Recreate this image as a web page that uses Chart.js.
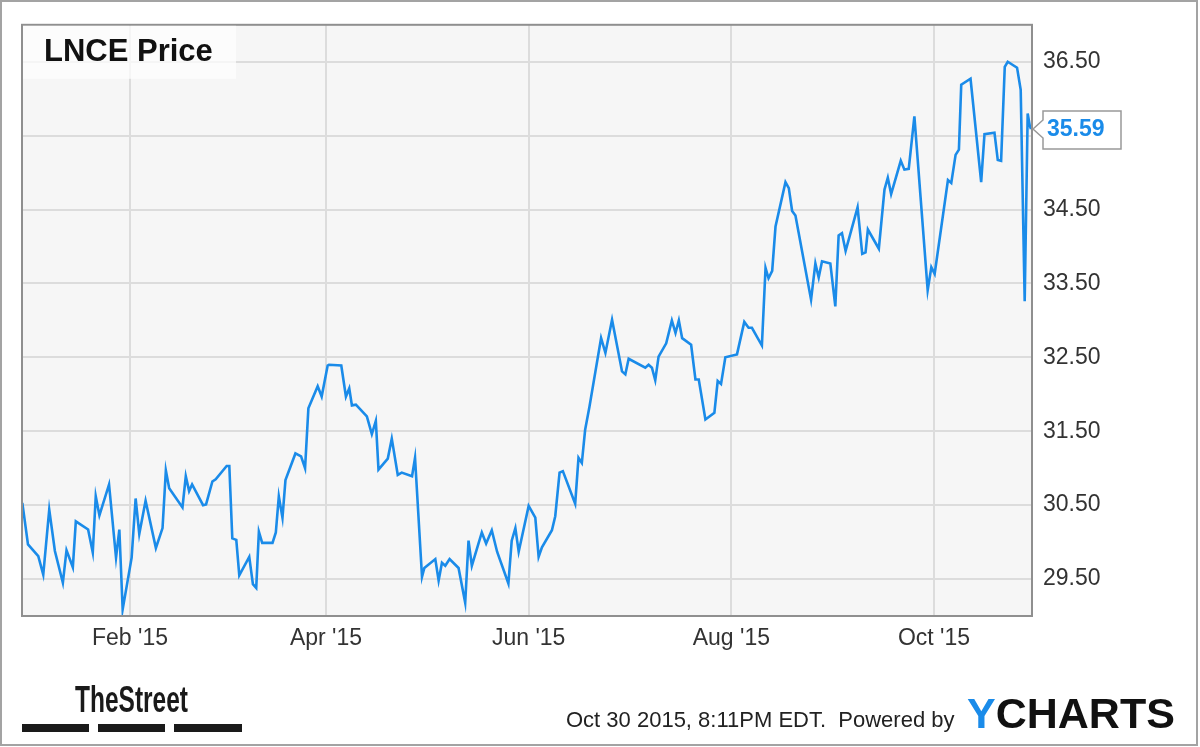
<!DOCTYPE html>
<html>
<head>
<meta charset="utf-8">
<title>LNCE Price</title>
<script src="https://cdn.jsdelivr.net/npm/chart.js@4/dist/chart.umd.min.js"></script>
<style>
  html, body { margin: 0; padding: 0; background: #fff; }
  #wrap { width: 1200px; height: 747px; }
</style>
</head>
<body>
<div id="wrap"><canvas id="myChart" width="1200" height="747"></canvas></div>
<script>
'use strict';
// day of 2015 (Jan 1 = 0) for each traced point
var tradeDays = [-1.4, 0.3, 3.4, 4.9, 6.7, 8.4, 10.8, 11.9, 13.8, 14.7,
  18.4, 19.8, 20.7, 21.8, 24.7, 26.8, 27.8, 28.8, 31.5, 32.7,
  33.8, 35.7, 38.8, 40.8, 41.8, 42.8, 46.8, 47.8, 48.8, 49.7,
  53.0, 53.9, 55.8, 56.8, 60.1, 60.9, 61.8, 63.0, 63.9, 66.9,
  68.0, 69.0, 69.8, 70.8, 73.9, 74.9, 75.8, 76.9, 77.8, 80.8,
  82.5, 83.7, 84.7, 87.5, 88.7, 90.5, 90.9, 94.6, 96.0, 97.0,
  97.8, 99.0, 102.3, 103.8, 105.0, 105.8, 108.6, 109.8, 111.6, 112.8,
  115.9, 116.8, 118.9, 119.6, 122.9, 123.9, 124.9, 125.9, 127.2, 129.9,
  131.9, 132.9, 133.9, 136.9, 138.2, 139.9, 141.5, 144.9, 145.9, 147.0,
  148.0, 151.0, 153.0, 154.0, 155.0, 158.0, 159.0, 160.3, 161.3, 165.0,
  166.0, 167.0, 168.0, 169.3, 172.8, 174.1, 176.1, 179.1, 180.1, 181.1,
  186.1, 187.1, 188.1, 189.1, 190.1, 192.4, 194.1, 195.2, 196.2, 197.2,
  199.9, 201.2, 202.2, 204.2, 206.9, 207.9, 208.9, 210.2, 213.7, 215.9,
  217.2, 218.2, 221.2, 222.3, 223.2, 224.3, 225.3, 228.3, 229.3, 230.3,
  231.3, 236.0, 237.3, 238.3, 239.3, 241.8, 243.3, 244.3, 245.3, 246.4,
  250.0, 251.4, 252.4, 253.1, 256.4, 258.1, 259.1, 260.1, 263.0, 264.1,
  265.4, 267.1, 271.1, 272.2, 273.2, 277.2, 278.2, 279.5, 280.5, 281.2,
  284.0, 287.2, 288.2, 291.2, 292.2, 293.2, 294.3, 295.2, 298.0, 299.1,
  300.3, 301.2, 301.8, 302.2];

var prices = [30.53, 29.97, 29.81, 29.56, 30.44, 29.88, 29.45, 29.89, 29.66, 30.28,
  30.17, 29.86, 30.62, 30.36, 30.78, 29.79, 30.17, 29.09, 29.79, 30.59,
  30.11, 30.56, 29.92, 30.19, 30.97, 30.73, 30.47, 30.89, 30.69, 30.78,
  30.50, 30.51, 30.82, 30.85, 31.03, 31.03, 30.05, 30.03, 29.55, 29.80,
  29.43, 29.38, 30.14, 29.99, 29.99, 30.13, 30.62, 30.33, 30.84, 31.20,
  31.16, 31.00, 31.81, 32.11, 31.97, 32.39, 32.40, 32.39, 31.97, 32.08,
  31.85, 31.86, 31.70, 31.46, 31.64, 30.98, 31.13, 31.40, 30.91, 30.94,
  30.89, 31.14, 29.53, 29.65, 29.77, 29.48, 29.72, 29.68, 29.77, 29.65,
  29.18, 30.02, 29.68, 30.13, 29.98, 30.16, 29.87, 29.44, 30.02, 30.19,
  29.87, 30.49, 30.33, 29.80, 29.93, 30.16, 30.35, 30.94, 30.96, 30.52,
  31.14, 31.07, 31.52, 31.83, 32.76, 32.56, 33.01, 32.31, 32.27, 32.48,
  32.36, 32.40, 32.36, 32.19, 32.51, 32.69, 33.00, 32.83, 33.00, 32.76,
  32.67, 32.20, 32.20, 31.66, 31.75, 32.18, 32.14, 32.50, 32.54, 32.98,
  32.90, 32.90, 32.66, 33.71, 33.57, 33.67, 34.27, 34.87, 34.79, 34.48,
  34.42, 33.28, 33.77, 33.58, 33.80, 33.77, 33.19, 34.15, 34.18, 33.94,
  34.53, 33.90, 33.92, 34.23, 33.97, 34.77, 34.93, 34.71, 35.16, 35.04,
  35.05, 35.76, 33.41, 33.72, 33.63, 34.90, 34.86, 35.24, 35.31, 36.19,
  36.27, 34.87, 35.52, 35.54, 35.17, 35.16, 36.43, 36.50, 36.42, 36.12,
  33.26, 35.80, 35.64, 35.59];

var monthTicks = [31, 90, 151, 212, 273];
var monthLabels = ["Feb '15", "Apr '15", "Jun '15", "Aug '15", "Oct '15"];
var priceTicks = [29.5, 30.5, 31.5, 32.5, 33.5, 34.5, 35.5, 36.5];

var lineBlue = '#1a8be9';
var fontFamily = '"Liberation Sans", Arial, sans-serif';
var lastPrice = prices[prices.length - 1];

var points = [];
for (var i = 0; i < tradeDays.length; i++) {
  points.push({ x: tradeDays[i], y: prices[i] });
}

// background, frames, title box, price callout and footer
var decorPlugin = {
  id: 'decor',
  beforeDraw: function (chart) {
    var ctx = chart.ctx;
    var a = chart.chartArea;
    ctx.save();
    ctx.fillStyle = '#fff';
    ctx.fillRect(0, 0, chart.width, chart.height);
    ctx.fillStyle = '#f6f6f6';
    ctx.fillRect(a.left, a.top, a.right - a.left, a.bottom - a.top);
    ctx.restore();
  },
  afterDraw: function (chart) {
    var ctx = chart.ctx;
    var a = chart.chartArea;
    ctx.save();
    // outer frame
    ctx.strokeStyle = '#a3a3a3';
    ctx.lineWidth = 2;
    ctx.strokeRect(1, 1, 1196, 744);
    // plot frame
    ctx.strokeStyle = '#8f8f8f';
    ctx.strokeRect(a.left, a.top, a.right - a.left, a.bottom - a.top);

    // title box
    ctx.fillStyle = 'rgba(255,255,255,0.7)';
    ctx.fillRect(a.left + 1, a.top + 1, 213, 53);
    ctx.fillStyle = '#111';
    ctx.font = 'bold 31px ' + fontFamily;
    ctx.textBaseline = 'alphabetic';
    ctx.fillText('LNCE Price', 44, 61);

    // last price callout
    var py = chart.scales.y.getPixelForValue(lastPrice);
    var bx = a.right + 11;
    ctx.beginPath();
    ctx.moveTo(a.right + 1, py);
    ctx.lineTo(bx, py - 9);
    ctx.lineTo(bx, py - 18);
    ctx.lineTo(bx + 78, py - 18);
    ctx.lineTo(bx + 78, py + 20);
    ctx.lineTo(bx, py + 20);
    ctx.lineTo(bx, py + 9);
    ctx.closePath();
    ctx.fillStyle = '#fff';
    ctx.fill();
    ctx.strokeStyle = '#999';
    ctx.lineWidth = 1.5;
    ctx.stroke();
    ctx.fillStyle = lineBlue;
    ctx.font = 'bold 23px ' + fontFamily;
    ctx.textBaseline = 'middle';
    ctx.fillText(lastPrice.toFixed(2), bx + 4, py + 1);

    // footer: TheStreet logo
    ctx.fillStyle = '#1a1a1a';
    ctx.textBaseline = 'alphabetic';
    ctx.font = 'bold 36px ' + fontFamily;
    ctx.fillText('TheStreet', 75, 712, 113);
    ctx.fillRect(22, 724, 67, 8);
    ctx.fillRect(98, 724, 67, 8);
    ctx.fillRect(174, 724, 68, 8);

    // footer: date and ycharts
    ctx.fillStyle = '#222';
    ctx.font = '22px ' + fontFamily;
    ctx.fillText('Oct 30 2015, 8:11PM EDT.  Powered by', 566, 727, 391);
    ctx.font = 'bold 43px ' + fontFamily;
    ctx.fillStyle = lineBlue;
    ctx.fillText('Y', 967, 728);
    var yw = ctx.measureText('Y').width;
    ctx.fillStyle = '#111';
    ctx.fillText('CHARTS', 967 + yw, 728);
    ctx.restore();
  }
};

var ctx = document.getElementById('myChart').getContext('2d');
var chart = new Chart(ctx, {
  type: 'line',
  data: {
    datasets: [{
      label: 'LNCE Price',
      data: points,
      borderColor: lineBlue,
      borderWidth: 2.6,
      pointRadius: 0,
      tension: 0,
      fill: false
    }]
  },
  options: {
    responsive: false,
    animation: false,
    layout: { padding: { left: 22, top: 22, right: 0, bottom: 0 } },
    plugins: { legend: { display: false }, tooltip: { enabled: false } },
    scales: {
      x: {
        type: 'linear',
        min: -1.5,
        max: 302.5,
        afterBuildTicks: function (scale) {
          scale.ticks = monthTicks.map(function (v) { return { value: v }; });
        },
        afterFit: function (scale) { scale.height = 131; },
        grid: { color: '#dcdcdc', lineWidth: 2, drawTicks: false },
        border: { display: false },
        ticks: {
          padding: 9,
          color: '#333',
          font: { family: fontFamily, size: 23 },
          maxRotation: 0,
          autoSkip: false,
          callback: function (value) {
            var idx = monthTicks.indexOf(value);
            return idx >= 0 ? monthLabels[idx] : '';
          }
        }
      },
      y: {
        position: 'right',
        min: 29,
        max: 37,
        afterBuildTicks: function (scale) {
          scale.ticks = priceTicks.map(function (v) { return { value: v }; });
        },
        afterFit: function (scale) { scale.width = 168; },
        grid: { color: '#dcdcdc', lineWidth: 2, drawTicks: false },
        border: { display: false },
        ticks: {
          padding: 11,
          color: '#333',
          font: { family: fontFamily, size: 23 },
          callback: function (value) {
            // 35.50 is covered by the last-price callout
            if (Math.abs(value - 35.5) < 0.001) return '';
            return value.toFixed(2);
          }
        }
      }
    }
  },
  plugins: [decorPlugin]
});
</script>
</body>
</html>
